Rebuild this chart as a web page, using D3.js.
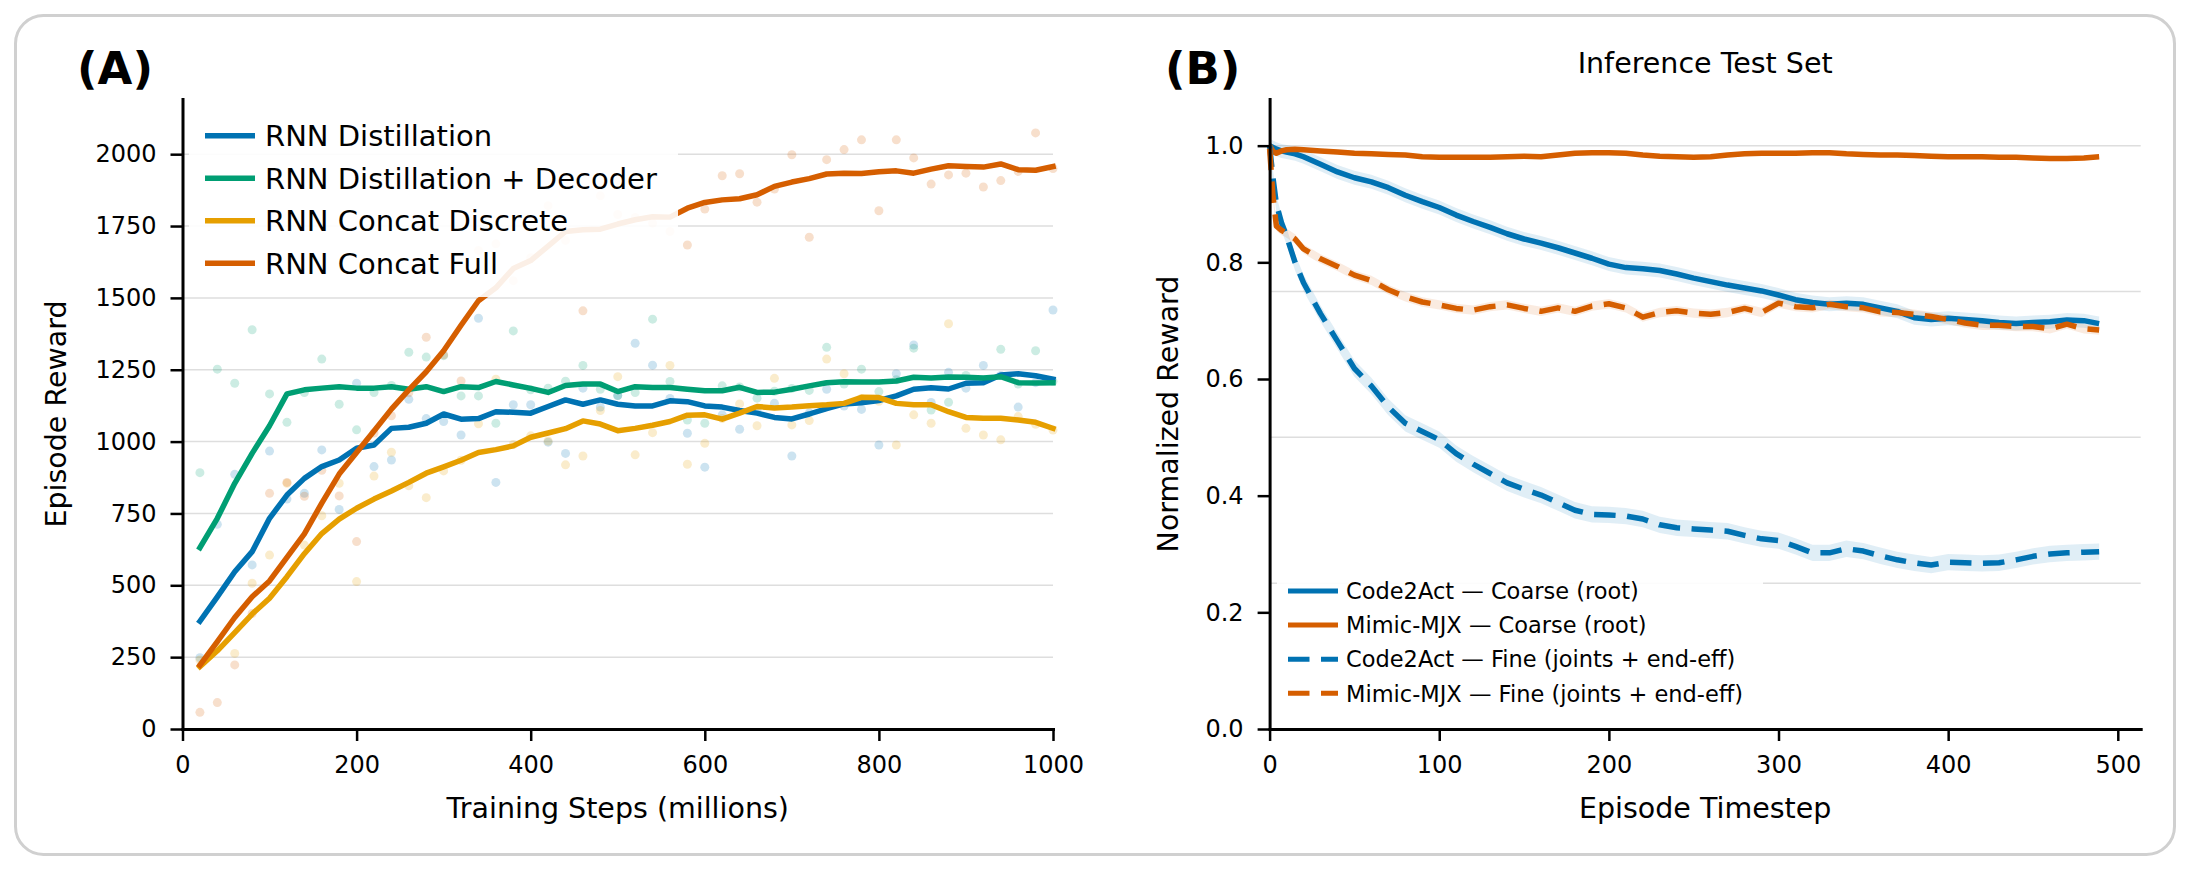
<!DOCTYPE html>
<html>
<head>
<meta charset="utf-8">
<script src="https://cdn.jsdelivr.net/npm/d3@7"></script>
<style>
  html, body { margin: 0; padding: 0; background: #fff; }
  svg { display: block; font-family: "DejaVu Sans", sans-serif; }
</style>
</head>
<body>
<svg id="chart" width="2190" height="870"></svg>
<script>
// ---------- panel A: training curves ----------
const trainingSteps = [20, 40, 60, 80, 100, 120, 140, 160, 180, 200, 220, 240, 260, 280, 300, 320, 340, 360, 380, 400,
  420, 440, 460, 480, 500, 520, 540, 560, 580, 600, 620, 640, 660, 680, 700, 720, 740, 760, 780, 800,
  820, 840, 860, 880, 900, 920, 940, 960, 980, 1000];

const seriesA = ['RNN Distillation', 'RNN Distillation + Decoder', 'RNN Concat Discrete', 'RNN Concat Full'];

// smoothed curves
const distillMean = [375, 460, 547, 617, 733, 814, 872, 913, 936, 977, 988, 1046, 1050, 1064, 1096, 1078, 1080, 1104, 1102, 1099,
  1122, 1145, 1130, 1145, 1130, 1124, 1124, 1142, 1139, 1124, 1120, 1108, 1099, 1084, 1079, 1096, 1115, 1131, 1135, 1143,
  1159, 1182, 1187, 1183, 1203, 1205, 1232, 1236, 1229, 1217];
const decoderMean = [631, 733, 855, 959, 1055, 1166, 1180, 1186, 1191, 1186, 1186, 1191, 1182, 1191, 1174, 1191, 1188, 1209, 1197, 1185,
  1171, 1195, 1200, 1200, 1174, 1191, 1188, 1188, 1182, 1177, 1177, 1189, 1171, 1172, 1182, 1194, 1205, 1208, 1207, 1207,
  1211, 1224, 1221, 1225, 1224, 1221, 1226, 1205, 1204, 1205];
const discreteMean = [217, 272, 335, 400, 455, 530, 610, 680, 730, 768, 800, 828, 858, 890, 912, 935, 962, 972, 985, 1015,
  1030, 1045, 1072, 1061, 1038, 1046, 1057, 1070, 1092, 1093, 1078, 1099, 1122, 1117, 1120, 1125, 1128, 1133, 1154, 1153,
  1133, 1128, 1128, 1104, 1084, 1081, 1081, 1075, 1067, 1046];
const fullMean = [222, 304, 388, 460, 515, 597, 679, 786, 887, 962, 1037, 1113, 1180, 1243, 1316, 1405, 1490, 1535, 1602, 1630,
  1680, 1731, 1737, 1739, 1757, 1772, 1782, 1781, 1812, 1832, 1841, 1845, 1859, 1888, 1903, 1915, 1931, 1934, 1933, 1939,
  1942, 1934, 1948, 1960, 1957, 1955, 1966, 1946, 1944, 1957];

// raw evaluation points (faint dots)
const distillRaw = [248, 712, 886, 571, 967, 800, 820, 971, 764, 1203, 913, 936, 1147, 1080, 1070, 1023, 1429, 858, 1128, 1128,
  998, 959, 1186, 1120, 1160, 1342, 1266, 1150, 1029, 911, 1093, 1043, 1110, 1133, 950, 1100, 1182, 1124, 1112, 988,
  1236, 1336, 1136, 1241, 1186, 1265, 1230, 1120, 1205, 1458];
const decoderRaw = [892, 1252, 1203, 1389, 1166, 1067, 1171, 1287, 1130, 1041, 1171, 1195, 1311, 1294, 1299, 1159, 1159, 1064, 1385, 1180,
  1186, 1210, 1265, 1182, 1160, 1171, 1426, 1209, 1075, 1064, 1194, 1190, 1151, 1175, 1185, 1178, 1328, 1200, 1252, 1174,
  1215, 1325, 1110, 1137, 1230, 1215, 1321, 1200, 1316, 1210];
const discreteRaw = [240, 285, 263, 507, 605, 855, 640, 742, 855, 513, 880, 963, 846, 805, 898, 935, 1062, 1217, 990, 1020,
  1002, 919, 950, 1108, 1226, 954, 1031, 1265, 921, 994, 1080, 1131, 1055, 1220, 1058, 1073, 1287, 1236, 1150, 1140,
  988, 1093, 1064, 1410, 1046, 1023, 1006, 1087, 1060, 1040];
const fullRaw = [58, 92, 223, 402, 820, 858, 810, 900, 811, 652, 1030, 1090, 1170, 1363, 1302, 1211, 1665, 1688, 1560, 1640,
  1821, 1700, 1455, 1855, 1790, 1780, 1760, 1731, 1684, 1809, 1925, 1932, 1833, 1879, 1998, 1711, 1981, 2016, 2050, 1803,
  2050, 1987, 1896, 1928, 1934, 1886, 1908, 1940, 2074, 1950];

const rewardTicks = [0, 250, 500, 750, 1000, 1250, 1500, 1750, 2000];
const stepTicks = [0, 200, 400, 600, 800, 1000];

// ---------- panel B: inference test set ----------
const timesteps = [0, 2, 4, 7, 10, 15, 20, 30, 40, 50, 60, 70, 80, 90, 100, 110, 120, 130, 140, 150,
  160, 170, 180, 190, 200, 210, 220, 230, 240, 250, 260, 270, 280, 290, 300, 310, 320, 330, 340, 350,
  360, 370, 380, 390, 400, 410, 420, 430, 440, 450, 460, 470, 480, 489];

const seriesB = ['Code2Act \u2014 Coarse (root)', 'Mimic-MJX \u2014 Coarse (root)',
  'Code2Act \u2014 Fine (joints + end-eff)', 'Mimic-MJX \u2014 Fine (joints + end-eff)'];

const code2actCoarse = [1.000, 0.997, 0.994, 0.991, 0.989, 0.986, 0.981, 0.968, 0.955, 0.945, 0.938, 0.928, 0.915, 0.904, 0.894, 0.881, 0.870, 0.860, 0.849, 0.840,
  0.833, 0.825, 0.816, 0.807, 0.797, 0.791, 0.789, 0.786, 0.780, 0.773, 0.767, 0.761, 0.756, 0.751, 0.744, 0.736, 0.731, 0.728, 0.730, 0.728,
  0.722, 0.716, 0.705, 0.702, 0.704, 0.702, 0.700, 0.697, 0.695, 0.697, 0.698, 0.701, 0.700, 0.695];
const mimicCoarse = [1.000, 0.990, 0.987, 0.991, 0.993, 0.994, 0.993, 0.991, 0.989, 0.987, 0.986, 0.985, 0.984, 0.981, 0.980, 0.980, 0.980, 0.980, 0.981, 0.982,
  0.981, 0.984, 0.987, 0.988, 0.988, 0.987, 0.984, 0.982, 0.981, 0.980, 0.981, 0.984, 0.986, 0.987, 0.987, 0.987, 0.988, 0.988, 0.986, 0.985,
  0.984, 0.984, 0.983, 0.982, 0.981, 0.981, 0.981, 0.980, 0.980, 0.979, 0.978, 0.978, 0.979, 0.981];
const code2actFine = [1.000, 0.945, 0.900, 0.868, 0.845, 0.800, 0.765, 0.712, 0.665, 0.618, 0.588, 0.552, 0.524, 0.510, 0.496, 0.472, 0.454, 0.438, 0.422, 0.411,
  0.401, 0.388, 0.375, 0.368, 0.367, 0.365, 0.360, 0.350, 0.345, 0.343, 0.341, 0.339, 0.332, 0.326, 0.323, 0.313, 0.302, 0.302, 0.309, 0.305,
  0.297, 0.290, 0.285, 0.281, 0.286, 0.285, 0.284, 0.285, 0.290, 0.296, 0.300, 0.302, 0.303, 0.304];
const mimicFine = [0.995, 0.913, 0.862, 0.855, 0.850, 0.840, 0.823, 0.806, 0.793, 0.778, 0.769, 0.753, 0.741, 0.732, 0.727, 0.721, 0.718, 0.724, 0.727, 0.721,
  0.716, 0.722, 0.716, 0.725, 0.729, 0.722, 0.706, 0.714, 0.717, 0.713, 0.711, 0.714, 0.721, 0.714, 0.730, 0.724, 0.722, 0.728, 0.724, 0.722,
  0.715, 0.714, 0.711, 0.707, 0.702, 0.696, 0.692, 0.692, 0.690, 0.690, 0.686, 0.694, 0.686, 0.684];
// half width of the shaded spread around each curve
const spreadB = [0.012, 0.003, 0.014, 0.008];

const normTicks = [0, 0.2, 0.4, 0.6, 0.8, 1.0];
const normGrid = [0.25, 0.5, 0.75, 1.0];
const timeTicks = [0, 100, 200, 300, 400, 500];

// ---------- styles ----------
const colorsA = ['#0072B2', '#009E73', '#E69F00', '#D55E00'];
const colorsB = ['#0072B2', '#D55E00', '#0072B2', '#D55E00'];
const dashedB = [false, false, true, true];
const FONT = '"DejaVu Sans", sans-serif';
const LW = 5.5;

const svg = d3.select('#chart');

// figure frame
svg.append('rect')
  .attr('x', 15.5).attr('y', 15.5)
  .attr('width', 2159).attr('height', 839)
  .attr('rx', 28)
  .attr('fill', 'none')
  .attr('stroke', '#d0d0d0')
  .attr('stroke-width', 3);

function styleAxis(g) {
  g.attr('font-family', FONT).attr('font-size', 24);
  g.select('.domain').attr('stroke', '#000').attr('stroke-width', 3).attr('stroke-linecap', 'square');
  g.selectAll('.tick line').attr('stroke', '#000').attr('stroke-width', 2.5);
  g.selectAll('.tick text').attr('fill', '#000');
}

// ================= panel A =================
const xA = d3.scaleLinear().domain([0, 1000]).range([182.5, 1053]);
const yA = d3.scaleLinear().domain([0, 2192]).range([729, 99]);

const gA = svg.append('g');

// grid
gA.append('g')
  .selectAll('line')
  .data(rewardTicks.filter(d => d > 0))
  .join('line')
    .attr('x1', xA(0)).attr('x2', xA(1000))
    .attr('y1', d => yA(d)).attr('y2', d => yA(d))
    .attr('stroke', '#dedede')
    .attr('stroke-width', 1.5);

const meansA = [distillMean, decoderMean, discreteMean, fullMean];
const rawsA = [distillRaw, decoderRaw, discreteRaw, fullRaw];

// raw dots
rawsA.forEach((raw, i) => {
  gA.append('g')
    .selectAll('circle')
    .data(raw.map((v, j) => [trainingSteps[j], v]))
    .join('circle')
      .attr('cx', d => xA(d[0]))
      .attr('cy', d => yA(d[1]))
      .attr('r', 4.5)
      .attr('fill', colorsA[i])
      .attr('opacity', 0.2);
});

const lineA = d3.line()
  .x((d, j) => xA(trainingSteps[j]))
  .y(d => yA(d));

meansA.forEach((m, i) => {
  gA.append('path')
    .datum(m)
    .attr('d', lineA)
    .attr('fill', 'none')
    .attr('stroke', colorsA[i])
    .attr('stroke-width', LW)
    .attr('stroke-linejoin', 'round')
    .attr('stroke-linecap', 'square');
});

// axes
gA.append('g')
  .attr('transform', `translate(0,${yA(0)})`)
  .call(d3.axisBottom(xA).tickValues(stepTicks).tickFormat(d3.format('d')).tickSize(12).tickSizeOuter(0).tickPadding(15))
  .call(styleAxis);
gA.append('g')
  .attr('transform', `translate(${xA(0)},0)`)
  .call(d3.axisLeft(yA).tickValues(rewardTicks).tickFormat(d3.format('d')).tickSize(12).tickSizeOuter(0).tickPadding(14))
  .call(styleAxis);

// legend
const legA = gA.append('g');
legA.append('rect')
  .attr('x', 189).attr('y', 104)
  .attr('width', 489).attr('height', 193)
  .attr('rx', 8)
  .attr('fill', '#fff')
  .attr('opacity', 0.9);
seriesA.forEach((name, i) => {
  const cy = 135.7 + i * 42.5;
  legA.append('line')
    .attr('x1', 205).attr('x2', 255)
    .attr('y1', cy).attr('y2', cy)
    .attr('stroke', colorsA[i])
    .attr('stroke-width', LW);
  legA.append('text')
    .attr('x', 265).attr('y', cy + 10.5)
    .attr('font-family', FONT)
    .attr('font-size', 29)
    .text(name);
});

gA.append('text')
  .attr('x', (xA(0) + xA(1000)) / 2).attr('y', 818)
  .attr('text-anchor', 'middle')
  .attr('font-family', FONT).attr('font-size', 28.5)
  .text('Training Steps (millions)');
gA.append('text')
  .attr('transform', `translate(66,${(yA.range()[0] + yA.range()[1]) / 2}) rotate(-90)`)
  .attr('text-anchor', 'middle')
  .attr('font-family', FONT).attr('font-size', 28.5)
  .text('Episode Reward');
gA.append('text')
  .attr('x', 77).attr('y', 84)
  .attr('font-family', FONT).attr('font-size', 45).attr('font-weight', 'bold')
  .text('(A)');

// ================= panel B =================
const xB = d3.scaleLinear().domain([0, 513.5]).range([1269.6, 2140.7]);
const yB = d3.scaleLinear().domain([0, 1.08]).range([729, 99]);

const gB = svg.append('g');

gB.append('g')
  .selectAll('line')
  .data(normGrid)
  .join('line')
    .attr('x1', xB.range()[0]).attr('x2', xB.range()[1])
    .attr('y1', d => yB(d)).attr('y2', d => yB(d))
    .attr('stroke', '#dedede')
    .attr('stroke-width', 1.5);

const valuesB = [code2actCoarse, mimicCoarse, code2actFine, mimicFine];

valuesB.forEach((vals, i) => {
  const area = d3.area()
    .x((d, j) => xB(timesteps[j]))
    .y0(d => yB(d - spreadB[i]))
    .y1(d => yB(d + spreadB[i]));
  gB.append('path')
    .datum(vals)
    .attr('d', area)
    .attr('fill', colorsB[i])
    .attr('opacity', 0.12);
});

const lineB = d3.line()
  .x((d, j) => xB(timesteps[j]))
  .y(d => yB(d));

valuesB.forEach((vals, i) => {
  gB.append('path')
    .datum(vals)
    .attr('d', lineB)
    .attr('fill', 'none')
    .attr('stroke', colorsB[i])
    .attr('stroke-width', LW)
    .attr('stroke-linejoin', 'round')
    .attr('stroke-dasharray', dashedB[i] ? '21.5,11.5' : null);
});

gB.append('g')
  .attr('transform', `translate(0,${yB(0)})`)
  .call(d3.axisBottom(xB).tickValues(timeTicks).tickFormat(d3.format('d')).tickSize(12).tickSizeOuter(0).tickPadding(15))
  .call(styleAxis);
gB.append('g')
  .attr('transform', `translate(${xB(0)},0)`)
  .call(d3.axisLeft(yB).tickValues(normTicks).tickFormat(d3.format('.1f')).tickSize(12).tickSizeOuter(0).tickPadding(14))
  .call(styleAxis);

const legB = gB.append('g');
legB.append('rect')
  .attr('x', 1277).attr('y', 567)
  .attr('width', 486).attr('height', 156)
  .attr('rx', 8)
  .attr('fill', '#fff')
  .attr('opacity', 0.9);
seriesB.forEach((name, i) => {
  const cy = 591 + i * 34.1;
  legB.append('line')
    .attr('x1', 1288).attr('x2', 1338)
    .attr('y1', cy).attr('y2', cy)
    .attr('stroke', colorsB[i])
    .attr('stroke-width', 5)
    .attr('stroke-dasharray', dashedB[i] ? '21.5,11.5' : null);
  legB.append('text')
    .attr('x', 1346).attr('y', cy + 8.2)
    .attr('font-family', FONT)
    .attr('font-size', 22.5)
    .text(name);
});

gB.append('text')
  .attr('x', (xB.range()[0] + xB.range()[1]) / 2).attr('y', 73)
  .attr('text-anchor', 'middle')
  .attr('font-family', FONT).attr('font-size', 28.5)
  .text('Inference Test Set');
gB.append('text')
  .attr('x', (xB.range()[0] + xB.range()[1]) / 2).attr('y', 818)
  .attr('text-anchor', 'middle')
  .attr('font-family', FONT).attr('font-size', 28.5)
  .text('Episode Timestep');
gB.append('text')
  .attr('transform', `translate(1178,${(yB.range()[0] + yB.range()[1]) / 2}) rotate(-90)`)
  .attr('text-anchor', 'middle')
  .attr('font-family', FONT).attr('font-size', 28.5)
  .text('Normalized Reward');
gB.append('text')
  .attr('x', 1165).attr('y', 84)
  .attr('font-family', FONT).attr('font-size', 45).attr('font-weight', 'bold')
  .text('(B)');
</script>
</body>
</html>
